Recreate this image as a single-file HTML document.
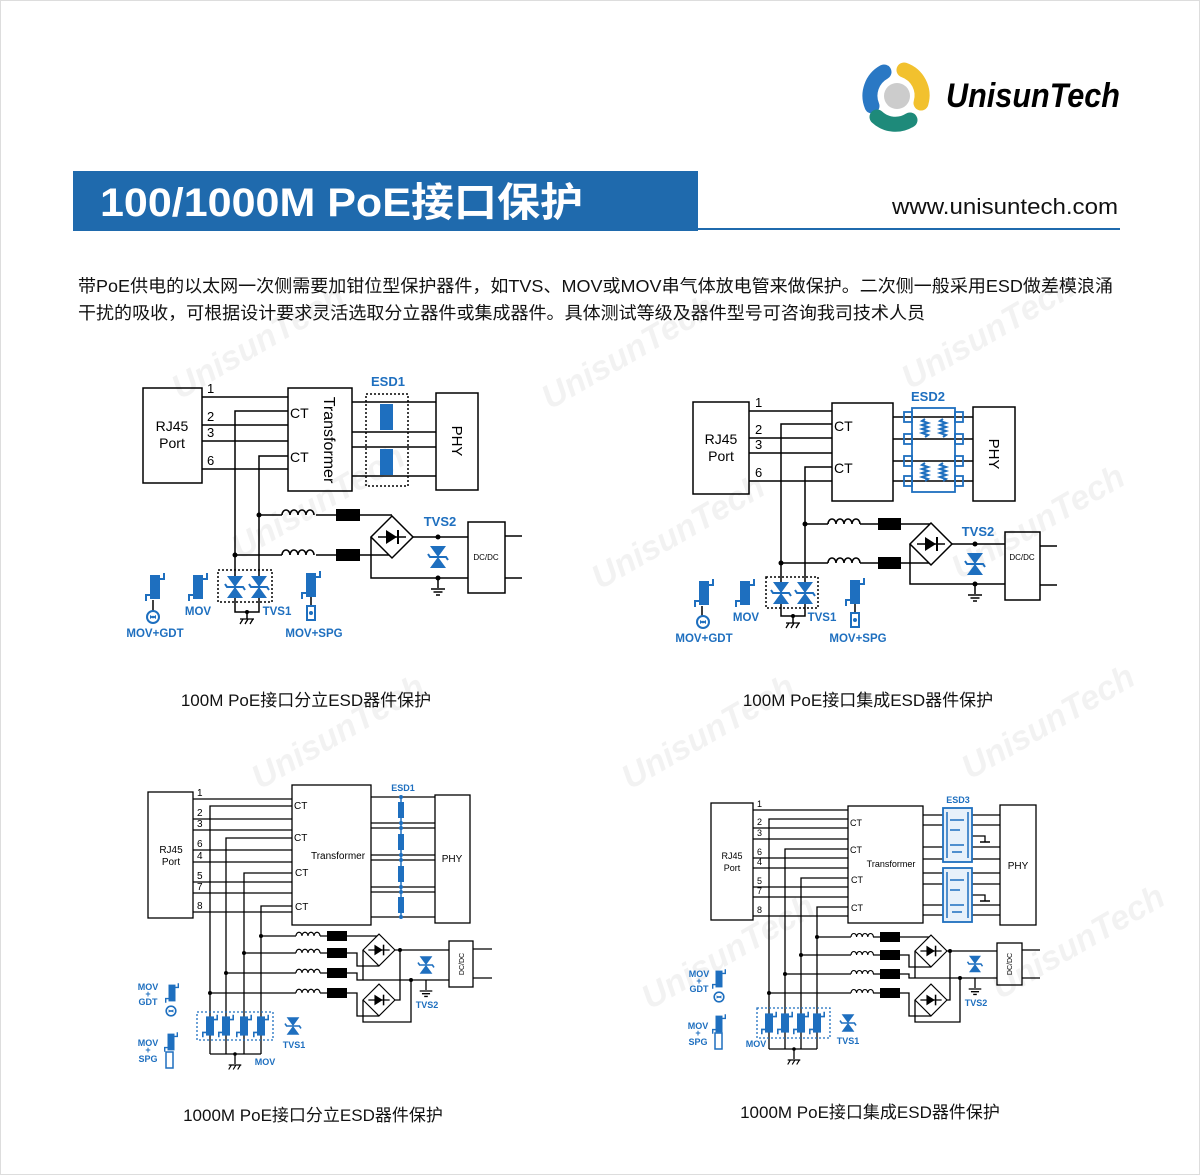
<!DOCTYPE html>
<html><head><meta charset="utf-8">
<style>
html,body{margin:0;padding:0;background:#fff;}
svg{display:block;}
text{font-family:"Liberation Sans","Noto Sans CJK SC",sans-serif;}
.b{fill:#1e6fbf;font-weight:bold;}
</style></head>
<body>
<svg width="1200" height="1175" viewBox="0 0 1200 1175" xmlns="http://www.w3.org/2000/svg">
<defs>
<g id="mov"><rect x="-5" y="-12" width="10" height="24" fill="#1e6fbf"/><path d="M-9,14V8H-4M4,-8H9V-14" stroke="#1e6fbf" stroke-width="2" fill="none"/></g>
<g id="tvs"><path d="M-8,-11H8L0,0Z M-8,11H8L0,0Z" fill="#1e6fbf"/><path d="M-10,-3L-8,0H8L10,3" stroke="#1e6fbf" stroke-width="2" fill="none"/></g>
<path id="ind" d="M0,0 a4,5 0 0 1 8,0 a4,5 0 0 1 8,0 a4,5 0 0 1 8,0 a4,5 0 0 1 8,0" fill="none" stroke="#000" stroke-width="1.6"/>
<g id="br"><polygon points="0,-21 21,0 0,21 -21,0" fill="#fff" stroke="#000" stroke-width="1.5"/><path d="M-14,0H14" stroke="#000" stroke-width="1.5"/><path d="M-6,-7V7L5,0Z" fill="#000"/><path d="M6,-7V7" stroke="#000" stroke-width="2"/></g>
<g id="gnd"><path d="M-7,0H7M-4.5,3H4.5M-2,6H2" stroke="#000" stroke-width="1.5"/></g>
<g id="chs"><path d="M-7,0H7M-4,0l-3,5M1,0l-3,5M6,0l-3,5" stroke="#000" stroke-width="1.3" fill="none"/></g>
<g id="gdt"><circle r="6" fill="#fff" stroke="#1e6fbf" stroke-width="2"/><path d="M-3,-2L0,0L-3,2ZM3,-2L0,0L3,2Z" fill="#1e6fbf"/><circle r="1.3" fill="#1e6fbf"/></g>
<g id="spg"><rect x="-4" y="-7" width="8" height="14" fill="#fff" stroke="#1e6fbf" stroke-width="2"/><circle r="2" fill="#1e6fbf"/></g>
<g id="zz"><path d="M0,0 l-3,2 l6,2 l-6,2 l6,2 l-6,2 l6,2 l-6,2 l6,2 l-3,2" stroke="#1e6fbf" stroke-width="2" fill="none"/></g>
</defs>

<rect x="0.5" y="0.5" width="1199" height="1174" fill="#fff" stroke="#ddd"/>

<!-- watermarks -->
<g fill="#000" fill-opacity="0.05" font-size="34" font-weight="bold" font-style="italic">
<text transform="translate(180,400) rotate(-30)">UnisunTech</text>
<text transform="translate(550,410) rotate(-30)">UnisunTech</text>
<text transform="translate(910,390) rotate(-30)">UnisunTech</text>
<text transform="translate(240,560) rotate(-30)">UnisunTech</text>
<text transform="translate(600,590) rotate(-30)">UnisunTech</text>
<text transform="translate(960,580) rotate(-30)">UnisunTech</text>
<text transform="translate(260,790) rotate(-30)">UnisunTech</text>
<text transform="translate(630,790) rotate(-30)">UnisunTech</text>
<text transform="translate(970,780) rotate(-30)">UnisunTech</text>
<text transform="translate(650,1010) rotate(-30)">UnisunTech</text>
<text transform="translate(1000,1000) rotate(-30)">UnisunTech</text>
</g>

<!-- logo -->
<g fill="none" stroke-linecap="round" stroke-width="15">
<path d="M872,106 A27,27 0 0 1 884,72" stroke="#2a78c4"/>
<path d="M904,70 A27,27 0 0 1 921,103" stroke="#f2c12e"/>
<path d="M910,120 A27,27 0 0 1 877,117" stroke="#1e8a7a"/>
</g>
<circle cx="897" cy="96" r="13" fill="#ccc"/>
<text x="946" y="107" font-size="34" font-weight="bold" font-style="italic" textLength="174" lengthAdjust="spacingAndGlyphs">UnisunTech</text>

<!-- title bar -->
<rect x="73" y="171" width="625" height="60" fill="#1f6aad"/>
<text x="100" y="216" font-size="40" font-weight="bold" fill="#fff" textLength="483" lengthAdjust="spacingAndGlyphs">100/1000M PoE接口保护</text>
<rect x="698" y="228" width="422" height="2" fill="#1f6aad"/>
<text x="1118" y="214" font-size="22" text-anchor="end" fill="#111" textLength="226" lengthAdjust="spacingAndGlyphs">www.unisuntech.com</text>

<text x="78" y="292" font-size="17.5" fill="#111" textLength="1035" lengthAdjust="spacingAndGlyphs">带PoE供电的以太网一次侧需要加钳位型保护器件，如TVS、MOV或MOV串气体放电管来做保护。二次侧一般采用ESD做差模浪涌</text>
<text x="78" y="319" font-size="17.5" fill="#111" textLength="847" lengthAdjust="spacingAndGlyphs">干扰的吸收，可根据设计要求灵活选取分立器件或集成器件。具体测试等级及器件型号可咨询我司技术人员</text>

<!-- ================= Diagram 1 ================= -->
<g stroke="#000" stroke-width="1.5" fill="none">
<rect x="143" y="388" width="59" height="95"/>
<path d="M202,397H288M202,425H288M202,441H288M202,469H288"/>
<rect x="288" y="388" width="64" height="103"/>
<path d="M288,411H235V598M288,456H259V598"/>
<path d="M352,402H436M352,432H436M352,447H436M352,476H436"/>
<rect x="366" y="394" width="42" height="92" stroke-dasharray="2,2"/>
<rect x="436" y="393" width="42" height="97"/>
<path d="M259,515H282M316,515H336M360,515H392M235,555H282M316,555H336M360,555H392"/>
<path d="M413,537H468M371,537V578H468M438,578V588"/>
<rect x="468" y="522" width="37" height="71"/>
<path d="M505,536H522M505,578H522"/>
<rect x="218" y="570" width="54" height="32" stroke-dasharray="2,2"/>
<path d="M235,598V612H259V598M247,612V619"/>
<path d="M153,600V611M311,597V606"/>
</g>
<g font-size="14" text-anchor="middle"><text x="172" y="431">RJ45</text><text x="172" y="448">Port</text></g>
<g font-size="13"><text x="207" y="393">1</text><text x="207" y="421">2</text><text x="207" y="437">3</text><text x="207" y="465">6</text>
<text x="290" y="418" font-size="14">CT</text><text x="290" y="462" font-size="14">CT</text></g>
<text transform="translate(324,440) rotate(90)" font-size="16" text-anchor="middle">Transformer</text>
<text transform="translate(452,441) rotate(90)" font-size="15" text-anchor="middle">PHY</text>
<rect x="380" y="404" width="13" height="26" fill="#1e6fbf"/><rect x="380" y="449" width="13" height="26" fill="#1e6fbf"/>
<text x="388" y="386" font-size="13" class="b" text-anchor="middle">ESD1</text>
<circle cx="259" cy="515" r="2.5"/><circle cx="235" cy="555" r="2.5"/>
<use href="#ind" x="282" y="515"/><use href="#ind" x="282" y="555"/>
<rect x="336" y="509" width="24" height="12"/><rect x="336" y="549" width="24" height="12"/>
<use href="#br" transform="translate(392,537)"/>
<circle cx="438" cy="537" r="2.5"/><circle cx="438" cy="578" r="2.5"/>
<use href="#tvs" transform="translate(438,557)"/>
<use href="#gnd" transform="translate(438,589)"/>
<text x="486" y="560" font-size="8" text-anchor="middle">DC/DC</text>
<text x="440" y="526" font-size="13" class="b" text-anchor="middle">TVS2</text>
<use href="#tvs" transform="translate(235,587)"/><use href="#tvs" transform="translate(259,587)"/>
<circle cx="247" cy="612" r="2"/><use href="#chs" transform="translate(247,619)"/>
<use href="#mov" transform="translate(155,587)"/><use href="#gdt" transform="translate(153,617)"/>
<use href="#mov" transform="translate(198,587)"/>
<use href="#mov" transform="translate(311,585)"/><use href="#spg" transform="translate(311,613)"/>
<g font-size="11.5" class="b" text-anchor="middle"><text x="155" y="637">MOV+GDT</text><text x="198" y="615">MOV</text><text x="277" y="615">TVS1</text><text x="314" y="637">MOV+SPG</text></g>
<text x="306" y="706" font-size="17" text-anchor="middle" fill="#111">100M PoE接口分立ESD器件保护</text>

<!-- ================= Diagram 2 ================= -->
<g stroke="#000" stroke-width="1.5" fill="none">
<rect x="693" y="402" width="56" height="92"/>
<path d="M749,411H832M749,438H832M749,453H832M749,481H832"/>
<rect x="832" y="403" width="61" height="98"/>
<path d="M832,424H781V604M832,467H805V604"/>
<path d="M893,417H973M893,439H973M893,461H973M893,481H973"/>
<rect x="973" y="407" width="42" height="94"/>
<path d="M805,524H828M860,524H878M901,524H931M781,563H828M860,563H878M901,563H931"/>
<path d="M952,544H1005M910,544V584H1005M975,584V594"/>
<rect x="1005" y="532" width="35" height="68"/>
<path d="M1040,546H1057M1040,585H1057"/>
<rect x="766" y="577" width="52" height="31" stroke-dasharray="2,2"/>
<path d="M781,604V616H805V604M793,616V623"/>
<path d="M702,606V616M855,604V613"/>
</g>
<g fill="none" stroke="#1e6fbf" stroke-width="1.8">
<rect x="912" y="408" width="43" height="84"/>
<rect x="904" y="412" width="8" height="10"/><rect x="904" y="434" width="8" height="10"/><rect x="904" y="456" width="8" height="10"/><rect x="904" y="476" width="8" height="10"/>
<rect x="955" y="412" width="8" height="10"/><rect x="955" y="434" width="8" height="10"/><rect x="955" y="456" width="8" height="10"/><rect x="955" y="476" width="8" height="10"/>
</g>
<use href="#zz" transform="translate(925,419)"/><use href="#zz" transform="translate(943,419)"/>
<use href="#zz" transform="translate(925,463)"/><use href="#zz" transform="translate(943,463)"/>
<text x="928" y="401" font-size="13" class="b" text-anchor="middle">ESD2</text>
<g font-size="14" text-anchor="middle"><text x="721" y="444">RJ45</text><text x="721" y="461">Port</text></g>
<g font-size="13"><text x="755" y="407">1</text><text x="755" y="434">2</text><text x="755" y="449">3</text><text x="755" y="477">6</text>
<text x="834" y="431" font-size="14">CT</text><text x="834" y="473" font-size="14">CT</text></g>
<text transform="translate(989,454) rotate(90)" font-size="15" text-anchor="middle">PHY</text>
<circle cx="805" cy="524" r="2.5"/><circle cx="781" cy="563" r="2.5"/>
<use href="#ind" x="828" y="524"/><use href="#ind" x="828" y="563"/>
<rect x="878" y="518" width="23" height="12"/><rect x="878" y="557" width="23" height="12"/>
<use href="#br" transform="translate(931,544)"/>
<circle cx="975" cy="544" r="2.5"/><circle cx="975" cy="584" r="2.5"/>
<use href="#tvs" transform="translate(975,564)"/>
<use href="#gnd" transform="translate(975,595)"/>
<text x="1022" y="560" font-size="8" text-anchor="middle">DC/DC</text>
<text x="978" y="536" font-size="13" class="b" text-anchor="middle">TVS2</text>
<use href="#tvs" transform="translate(781,593)"/><use href="#tvs" transform="translate(805,593)"/>
<circle cx="793" cy="616" r="2"/><use href="#chs" transform="translate(793,623)"/>
<use href="#mov" transform="translate(704,593)"/><use href="#gdt" transform="translate(703,622)"/>
<use href="#mov" transform="translate(745,593)"/>
<use href="#mov" transform="translate(855,592)"/><use href="#spg" transform="translate(855,620)"/>
<g font-size="11.5" class="b" text-anchor="middle"><text x="704" y="642">MOV+GDT</text><text x="746" y="621">MOV</text><text x="822" y="621">TVS1</text><text x="858" y="642">MOV+SPG</text></g>
<text x="868" y="706" font-size="17" text-anchor="middle" fill="#111">100M PoE接口集成ESD器件保护</text>

<!-- ================= Diagram 3 ================= -->
<g stroke="#000" stroke-width="1.3" fill="none">
<rect x="148" y="792" width="45" height="126"/>
<path d="M193,799H292M193,819H292M193,830H292M193,850H292M193,862H292M193,882H292M193,893H292M193,912H292"/>
<rect x="292" y="785" width="79" height="140"/>
<path d="M292,806H210V1054M292,838H226V1054M292,873H244V1054M292,906H261V1054"/>
<path d="M371,797H435M371,823H435M371,828H435M371,855H435M371,860H435M371,887H435M371,892H435M371,917H435"/>
<rect x="435" y="795" width="35" height="128"/>
<path d="M261,936H296M320,936H327M347,936H379M244,953H296M320,953H327M347,953H357V966H379M226,973H296M320,973H327M347,973H357V980H449M210,993H296M320,993H327M347,993H357V1016H379"/>
<path d="M395,950H449M395,1000H400V950M363,950V980M363,1000V1022H411V980M426,980V990"/>
<rect x="449" y="941" width="24" height="46"/>
<path d="M473,949H492M473,978H492"/>
<rect x="197" y="1012" width="76" height="28" stroke="#1e6fbf" stroke-dasharray="2,2"/>
<path d="M210,1054H261M235,1054V1064"/>
</g>
<g font-size="10" text-anchor="middle"><text x="171" y="853">RJ45</text><text x="171" y="865">Port</text>
<text x="338" y="859">Transformer</text><text x="452" y="862">PHY</text></g>
<g font-size="10"><text x="197" y="796">1</text><text x="197" y="816">2</text><text x="197" y="827">3</text><text x="197" y="847">6</text><text x="197" y="859">4</text><text x="197" y="879">5</text><text x="197" y="890">7</text><text x="197" y="909">8</text>
<text x="294" y="809">CT</text><text x="294" y="841">CT</text><text x="295" y="876">CT</text><text x="295" y="910">CT</text></g>
<path d="M401,797V917" stroke="#1e6fbf" stroke-width="1.5"/>
<g fill="#1e6fbf"><rect x="398" y="802" width="6" height="16"/><rect x="398" y="834" width="6" height="16"/><rect x="398" y="866" width="6" height="16"/><rect x="398" y="897" width="6" height="16"/>
<circle cx="401" cy="797" r="2"/><circle cx="401" cy="823" r="2"/><circle cx="401" cy="828" r="2"/><circle cx="401" cy="855" r="2"/><circle cx="401" cy="860" r="2"/><circle cx="401" cy="887" r="2"/><circle cx="401" cy="892" r="2"/><circle cx="401" cy="917" r="2"/></g>
<text x="403" y="791" font-size="9" class="b" text-anchor="middle">ESD1</text>
<circle cx="261" cy="936" r="2"/><circle cx="244" cy="953" r="2"/><circle cx="226" cy="973" r="2"/><circle cx="210" cy="993" r="2"/>
<use href="#ind" transform="translate(296,936) scale(0.75)"/><use href="#ind" transform="translate(296,953) scale(0.75)"/><use href="#ind" transform="translate(296,973) scale(0.75)"/><use href="#ind" transform="translate(296,993) scale(0.75)"/>
<rect x="327" y="931" width="20" height="10"/><rect x="327" y="948" width="20" height="10"/><rect x="327" y="968" width="20" height="10"/><rect x="327" y="988" width="20" height="10"/>
<use href="#br" transform="translate(379,950) scale(0.76)"/><use href="#br" transform="translate(379,1000) scale(0.76)"/>
<circle cx="400" cy="950" r="2"/><circle cx="411" cy="980" r="2"/>
<use href="#tvs" transform="translate(426,965) scale(0.8)"/>
<use href="#gnd" transform="translate(426,991) scale(0.9)"/>
<text transform="translate(464,964) rotate(-90)" font-size="7" text-anchor="middle">DC/DC</text>
<text x="427" y="1008" font-size="9" class="b" text-anchor="middle">TVS2</text>
<use href="#mov" transform="translate(210,1026) scale(0.8)"/><use href="#mov" transform="translate(226,1026) scale(0.8)"/><use href="#mov" transform="translate(244,1026) scale(0.8)"/><use href="#mov" transform="translate(261,1026) scale(0.8)"/>
<circle cx="235" cy="1054" r="1.8"/><use href="#chs" transform="translate(235,1065) scale(0.9)"/>
<use href="#tvs" transform="translate(293,1026) scale(0.8)"/>
<g font-size="9" class="b" text-anchor="middle"><text x="294" y="1048">TVS1</text><text x="265" y="1065">MOV</text>
<text x="148" y="990">MOV</text><text x="148" y="997">+</text><text x="148" y="1005">GDT</text>
<text x="148" y="1046">MOV</text><text x="148" y="1053">+</text><text x="148" y="1062">SPG</text></g>
<use href="#mov" transform="translate(172,993) scale(0.7)"/><use href="#gdt" transform="translate(171,1011) scale(0.8)"/>
<use href="#mov" transform="translate(171,1042) scale(0.7)"/><rect x="166" y="1052" width="7" height="16" fill="#fff" stroke="#1e6fbf" stroke-width="1.5"/>
<text x="313" y="1121" font-size="17" text-anchor="middle" fill="#111">1000M PoE接口分立ESD器件保护</text>

<!-- ================= Diagram 4 ================= -->
<g stroke="#000" stroke-width="1.3" fill="none">
<rect x="711" y="803" width="42" height="117"/>
<path d="M753,810H848M753,828H848M753,839H848M753,858H848M753,868H848M753,887H848M753,897H848M753,916H848"/>
<rect x="848" y="806" width="75" height="117"/>
<path d="M848,819H769V1049M848,849H785V1049M848,878H801V1049M848,907H817V1049"/>
<path d="M923,815H1000M923,825H1000M923,847H1000M923,859H1000M923,873H1000M923,884H1000M923,905H1000M923,915H1000"/>
<rect x="1000" y="805" width="36" height="120"/>
<path d="M972,836H985V842M972,895H985V901"/>
<path d="M817,937H851M873,937H880M900,937H931M801,955H851M873,955H880M900,955H909V967H931M785,974H851M873,974H880M900,974H909V978H997M769,993H851M873,993H880M900,993H909V1016H931"/>
<path d="M947,951H997M947,1000H950V951M915,951V978M915,1000V1022H960V978M975,978V988"/>
<rect x="997" y="943" width="25" height="42"/>
<path d="M1022,950H1040M1022,978H1040"/>
<rect x="757" y="1008" width="73" height="30" stroke="#1e6fbf" stroke-dasharray="2,2"/>
<path d="M769,1049H817M794,1049V1059"/>
</g>
<path d="M980,842H990M980,901H990" stroke="#000" stroke-width="1.5"/>
<g fill="#e8f1fa" stroke="#1e6fbf" stroke-width="1.8"><rect x="943" y="808" width="29" height="54"/><rect x="943" y="868" width="29" height="54"/></g>
<g stroke="#1e6fbf" stroke-width="1.5" fill="none">
<path d="M947,812V858M968,812V858M947,872V918M968,872V918M950,820h14M950,830h10M950,845h14M952,852h10M950,880h14M950,890h10M950,905h14M952,912h10"/>
</g>
<text x="958" y="803" font-size="9" class="b" text-anchor="middle">ESD3</text>
<g font-size="9" text-anchor="middle"><text x="732" y="859">RJ45</text><text x="732" y="871">Port</text>
<text x="891" y="867">Transformer</text><text x="1018" y="869" font-size="10">PHY</text></g>
<g font-size="9"><text x="757" y="807">1</text><text x="757" y="825">2</text><text x="757" y="836">3</text><text x="757" y="855">6</text><text x="757" y="865">4</text><text x="757" y="884">5</text><text x="757" y="894">7</text><text x="757" y="913">8</text>
<text x="850" y="826">CT</text><text x="850" y="853">CT</text><text x="851" y="883">CT</text><text x="851" y="911">CT</text></g>
<circle cx="817" cy="937" r="2"/><circle cx="801" cy="955" r="2"/><circle cx="785" cy="974" r="2"/><circle cx="769" cy="993" r="2"/>
<use href="#ind" transform="translate(851,937) scale(0.7)"/><use href="#ind" transform="translate(851,955) scale(0.7)"/><use href="#ind" transform="translate(851,974) scale(0.7)"/><use href="#ind" transform="translate(851,993) scale(0.7)"/>
<rect x="880" y="932" width="20" height="10"/><rect x="880" y="950" width="20" height="10"/><rect x="880" y="969" width="20" height="10"/><rect x="880" y="988" width="20" height="10"/>
<use href="#br" transform="translate(931,951) scale(0.76)"/><use href="#br" transform="translate(931,1000) scale(0.76)"/>
<circle cx="950" cy="951" r="2"/><circle cx="960" cy="978" r="2"/>
<use href="#tvs" transform="translate(975,964) scale(0.75)"/>
<use href="#gnd" transform="translate(975,989) scale(0.9)"/>
<text transform="translate(1012,964) rotate(-90)" font-size="7" text-anchor="middle">DC/DC</text>
<text x="976" y="1006" font-size="9" class="b" text-anchor="middle">TVS2</text>
<use href="#mov" transform="translate(769,1023) scale(0.8)"/><use href="#mov" transform="translate(785,1023) scale(0.8)"/><use href="#mov" transform="translate(801,1023) scale(0.8)"/><use href="#mov" transform="translate(817,1023) scale(0.8)"/>
<circle cx="794" cy="1049" r="1.8"/><use href="#chs" transform="translate(794,1060) scale(0.9)"/>
<use href="#tvs" transform="translate(848,1023) scale(0.8)"/>
<g font-size="9" class="b" text-anchor="middle"><text x="848" y="1044">TVS1</text><text x="756" y="1047">MOV</text>
<text x="699" y="977">MOV</text><text x="699" y="984">+</text><text x="699" y="992">GDT</text>
<text x="698" y="1029">MOV</text><text x="698" y="1036">+</text><text x="698" y="1045">SPG</text></g>
<use href="#mov" transform="translate(719,979) scale(0.7)"/><use href="#gdt" transform="translate(719,997) scale(0.8)"/>
<use href="#mov" transform="translate(719,1024) scale(0.7)"/><rect x="715" y="1033" width="7" height="16" fill="#fff" stroke="#1e6fbf" stroke-width="1.5"/>
<text x="870" y="1118" font-size="17" text-anchor="middle" fill="#111">1000M PoE接口集成ESD器件保护</text>
</svg>
</body></html>
